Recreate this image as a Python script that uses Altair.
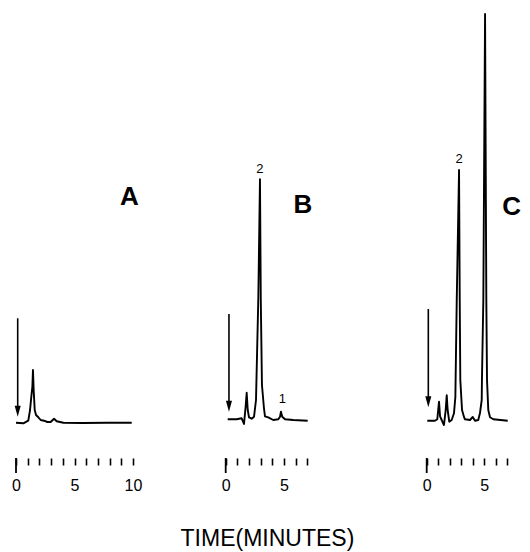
import altair as alt
import pandas as pd

# ---- Chromatogram A (time in minutes, detector signal in arbitrary units) ----
a_time = [0.0, 0.63, 1.05, 1.20, 1.31, 1.40, 1.45, 1.51, 1.60, 1.71, 1.91, 2.11,
          2.39, 2.68, 2.96, 3.25, 3.48, 4.05, 5.75, 7.75, 9.89]
a_signal = [-1.7, -2.3, 0.3, 11, 24.3, 34.3, 51, 31, 11, 6, 3.7, 1,
            0.3, -1, -1, 2.3, -0.3, -1.7, -2, -1.7, -1.7]

# ---- Chromatogram B ----
b_time = [0.17, 0.94, 1.37, 1.57, 1.71, 1.80, 1.89, 2.00, 2.23, 2.43, 2.60, 2.80,
          2.94, 3.01, 3.11, 3.28, 3.37, 3.65, 4.08, 4.51, 4.66, 4.74, 4.85, 5.09,
          5.80, 7.03]
b_signal = [1.7, 1.7, 2.7, -3, 14.3, 28.3, 11, 3.7, 2.3, 4.3, 21, 124,
            241.7, 121, 36, 13, 4.7, 3.7, 1, 1.7, 4.3, 9.3, 4.3, 1.7,
            1, 0.3]

# ---- Chromatogram C ----
c_time = [0.05, 0.72, 0.92, 1.07, 1.16, 1.30, 1.50, 1.65, 1.74, 1.82, 1.96, 2.17,
          2.37, 2.49, 2.61, 2.81, 2.87, 2.92, 3.07, 3.24, 3.33, 3.76, 4.00, 4.20,
          4.48, 4.63, 4.78, 4.80, 4.92, 5.07, 5.18, 5.24, 5.35, 5.50, 5.79, 7.04]
c_signal = [0.3, 0.3, 1.7, 19.3, 4.7, 1, -4, 11, 25.7, 11, -0.7, 1,
            7.7, 24, 121, 251, 121, 41, 11, 4, 1.7, 1, 4, 0.3,
            1, 8, 21, 41, 121, 407, 121, 41, 11, 3.7, 1.7, 0.3]

# injection arrows (time, top of shaft, tip)
arrow_time = [0.145, 0.28, 0.14]
arrow_top = [102.7, 107, 112]
arrow_tip = [4.3, 9.3, 13.7]

# panel letters
letter_text = ["A", "B", "C"]
letter_time = [9.7, 6.63, 8.19]
letter_signal = [216, 207.7, 206]
letter_align = ["center", "center", "right"]

# peak numbers: (panel, label, time, signal)
peak_panel = ["B", "B", "C"]
peak_text = ["2", "1", "2"]
peak_time = [2.94, 4.87, 2.81]
peak_signal = [248.3, 18, 257.7]

ticks_a = list(range(0, 11))
ticks_bc = list(range(0, 8))

axis_title = "TIME(MINUTES)"

Y_DOMAIN = [-37, 413]
H = 450
FONT = "Liberation Sans"


def panel(idx, times, signals, domain, width, ticks, title_text=None):
    xs = alt.Scale(domain=domain, nice=False, zero=False)
    ys = alt.Scale(domain=Y_DOMAIN, nice=False, zero=False)
    axis = alt.Axis(values=ticks, labelExpr="datum.value % 5 === 0 ? datum.label : ''",
                    domain=False, grid=False, tickSize=7, tickWidth=1.6,
                    tickColor="black", labelColor="black", labelFontSize=16,
                    labelFont=FONT, labelPadding=12, title=None,
                    labelFlush=False, labelOverlap=False)
    X = lambda f: alt.X(f, type="quantitative", scale=xs, axis=axis)
    Y = lambda f: alt.Y(f, type="quantitative", scale=ys, axis=None)

    trace = pd.DataFrame({"t": times, "s": signals})
    line = alt.Chart(trace).mark_line(color="black", strokeWidth=1.9,
                                      strokeJoin="round").encode(
        x=X("t"), y=Y("s"), order="t:Q")

    arr = pd.DataFrame({"t": [arrow_time[idx]], "top": [arrow_top[idx]],
                        "shaft_end": [arrow_tip[idx] + 8],
                        "head": [arrow_tip[idx] + 5.5]})
    shaft = alt.Chart(arr).mark_rule(color="black", strokeWidth=1.6).encode(
        x=X("t"), y=Y("top"), y2="shaft_end")
    head = alt.Chart(arr).mark_point(shape="M-0.55,-1L0.55,-1L0,1Z", filled=True,
                                     size=121, color="black", opacity=1).encode(
        x=X("t"), y=Y("head"))

    zero_tick = pd.DataFrame({"t": [0], "y1": [Y_DOMAIN[0]], "y2": [Y_DOMAIN[0] - 15]})
    zt = alt.Chart(zero_tick).mark_rule(color="black", strokeWidth=1.8).encode(
        x=X("t"), y=Y("y1"), y2="y2")

    let = pd.DataFrame({"t": [letter_time[idx]], "s": [letter_signal[idx]],
                        "txt": [letter_text[idx]]})
    letter = alt.Chart(let).mark_text(font=FONT, fontWeight="bold", fontSize=26,
                                      baseline="alphabetic", align=letter_align[idx],
                                      color="black").encode(
        x=X("t"), y=Y("s"), text="txt:N")

    layers = [line, shaft, head, zt, letter]

    pk = pd.DataFrame({"p": peak_panel, "txt": peak_text, "t": peak_time, "s": peak_signal})
    pk = pk[pk["p"] == letter_text[idx]]
    if len(pk):
        layers.append(alt.Chart(pk).mark_text(font=FONT, fontSize=13,
                                              baseline="alphabetic", align="center",
                                              color="black").encode(
            x=X("t"), y=Y("s"), text="txt:N"))

    if title_text:
        tt = pd.DataFrame({"t": [3.58], "s": [-125], "txt": [title_text]})
        layers.append(alt.Chart(tt).mark_text(font=FONT, fontSize=23,
                                              baseline="alphabetic", align="center",
                                              color="black").encode(
            x=X("t"), y=Y("s"), text="txt:N"))

    return alt.layer(*layers).properties(width=width, height=H)


pa = panel(0, a_time, a_signal, [-0.684, 14.017], 172, ticks_a)
pb = panel(1, b_time, b_signal, [-3.919, 10.661], 170, ticks_bc, axis_title)
pc = panel(2, c_time, c_signal, [-6.664, 8.106], 170, ticks_bc)

chart = alt.hconcat(pa, pb, pc, spacing=0, bounds="flush").resolve_scale(
    x="independent", y="independent").configure_view(stroke=None).properties(padding=0)

chart.save("out.html", embed_options={"renderer": "svg", "actions": False})
